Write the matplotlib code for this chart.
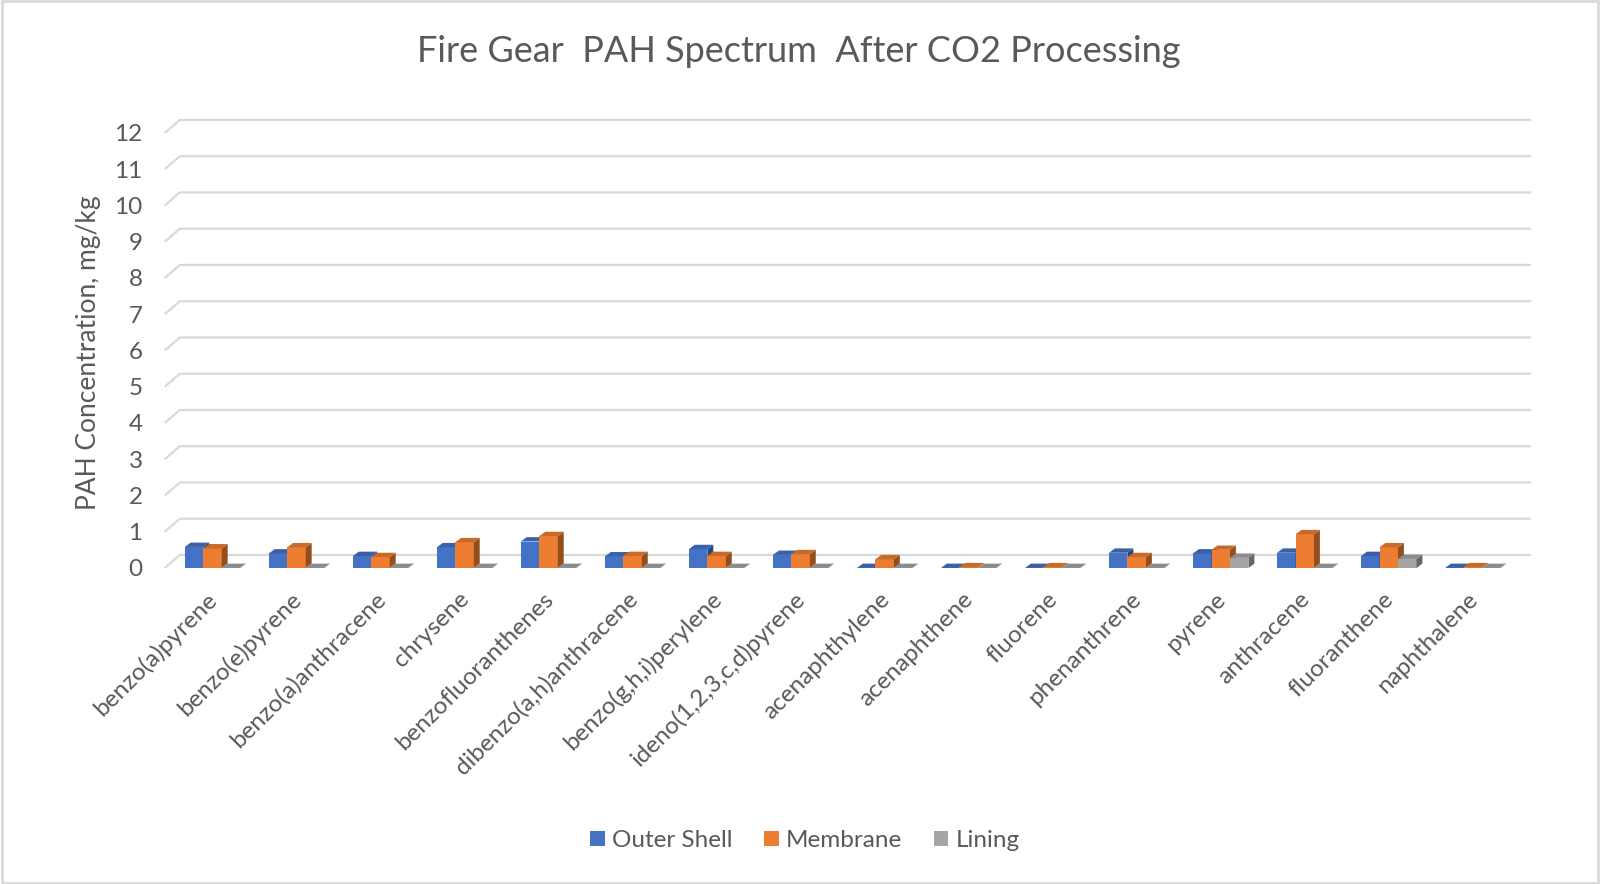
import matplotlib.pyplot as plt
from matplotlib.patches import Polygon, Rectangle, Patch
import numpy as np

plt.rcParams['font.family'] = ['Lato', 'DejaVu Sans']

# data
categories = ["benzo(a)pyrene", "benzo(e)pyrene", "benzo(a)anthracene", "chrysene",
              "benzofluoranthenes", "dibenzo(a,h)anthracene", "benzo(g,h,i)perylene",
              "ideno(1,2,3,c,d)pyrene", "acenaphthylene", "acenaphthene", "fluorene",
              "phenanthrene", "pyrene", "anthracene", "fluoranthene", "naphthalene"]
outer_shell = [0.58, 0.40, 0.33, 0.57, 0.73, 0.32, 0.52, 0.36, 0.0, 0.0, 0.0, 0.42, 0.40, 0.42, 0.33, 0.0]
membrane = [0.54, 0.57, 0.30, 0.71, 0.88, 0.33, 0.33, 0.38, 0.24, 0.02, 0.02, 0.30, 0.50, 0.93, 0.57, 0.02]
lining = [0, 0, 0, 0, 0, 0, 0, 0, 0, 0, 0, 0, 0.28, 0, 0.25, 0]
series_names = ["Outer Shell", "Membrane", "Lining"]
colors = ["#4472C4", "#ED7D31", "#A5A5A5"]
y_ticks = list(range(0, 13))

txt = "#595959"
grid_c = "#d9d9d9"

fig = plt.figure(figsize=(16, 8.84), dpi=100)
ax = fig.add_axes([0.103, 0.3575, 0.854, 0.5085])
ax.set_xlim(-0.583, 15.68)
ax.set_ylim(0, 12.4)
for s in ax.spines.values():
    s.set_visible(False)

# fake 3d depth (data units)
gdx, gdy = 0.179, 0.359   # floor / wall depth
bdx, bdy = 0.07, 0.12     # bar depth


def shade(c, f):
    r, g, b = plt.matplotlib.colors.to_rgb(c)
    return (r * f, g * f, b * f)


# gridlines on the back wall with the little diagonal on the side wall
for v in y_ticks:
    ax.plot([-0.583, -0.583 + gdx, 15.68], [v, v + gdy, v + gdy], color=grid_c, lw=1.6,
            zorder=1, clip_on=False, solid_capstyle='butt')

x = np.arange(len(categories))
width = 0.22
offsets = [-0.235, -0.015, 0.205]
for k, (vals, col) in enumerate(zip([outer_shell, membrane, lining], colors)):
    z = 3 + k
    ax.bar(x + offsets[k], vals, width, color=col, zorder=z, linewidth=0)
    for xi, h in zip(x + offsets[k] - width / 2, vals):
        top = Polygon([(xi, h), (xi + width, h), (xi + width + bdx, h + bdy), (xi + bdx, h + bdy)],
                      closed=True, fc=shade(col, 0.85), ec='none', zorder=z)
        side = Polygon([(xi + width, 0), (xi + width + bdx, bdy), (xi + width + bdx, h + bdy), (xi + width, h)],
                       closed=True, fc=shade(col, 0.62), ec='none', zorder=z)
        ax.add_patch(side)
        ax.add_patch(top)

ax.set_yticks(y_ticks)
ax.set_yticklabels([str(v) for v in y_ticks], fontsize=17.5, color=txt)
ax.set_xticks(x)
ax.set_xticklabels(categories, rotation=45, ha='right', va='center', rotation_mode='anchor',
                   fontsize=17.5, color=txt)
ax.tick_params(axis='both', length=0)
ax.tick_params(axis='y', pad=16)
ax.tick_params(axis='x', pad=20)
ax.set_ylabel("PAH Concentration, mg/kg", fontsize=19, color=txt)
ax.yaxis.set_label_coords(-0.047, 0.48)

fig.text(0.499, 0.942, "Fire Gear  PAH Spectrum  After CO2 Processing", ha='center', va='center',
         fontsize=26, color=txt)

handles = [Patch(facecolor=c, label=n) for c, n in zip(colors, series_names)]
fig.legend(handles=handles, loc='center', bbox_to_anchor=(0.503, 0.049), ncol=3, frameon=False,
           fontsize=17.5, handlelength=0.6, handleheight=0.6, handletextpad=0.3,
           columnspacing=1.3, labelcolor=txt)

fig.patches.append(Rectangle((0.001, 0.001), 0.998, 0.998, transform=fig.transFigure,
                             fill=False, ec=grid_c, lw=2))

fig.savefig("out.png", dpi=100, facecolor="white")
